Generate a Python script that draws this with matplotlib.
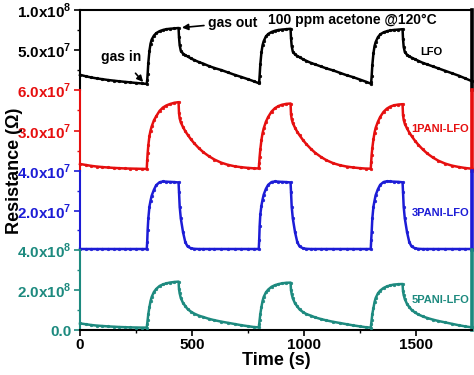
import matplotlib
matplotlib.use("Agg")
import matplotlib.pyplot as plt
from matplotlib.ticker import FixedLocator, FixedFormatter

plt.rcParams['font.family'] = ['Liberation Sans', 'DejaVu Sans']
plt.rcParams['font.weight'] = 'bold'
plt.rcParams['mathtext.fontset'] = 'custom'
plt.rcParams['mathtext.rm'] = 'Liberation Sans:bold'
plt.rcParams['mathtext.bf'] = 'Liberation Sans:bold'

# ---------------- data ----------------
time_s = [0, 25, 50, 75, 100, 125, 150, 175, 200, 225, 250, 275, 298,
          300, 302, 305, 310, 315, 320, 330, 340, 355, 370, 385, 400, 420, 440,
          442, 445, 450, 460, 470, 480, 495, 510, 530, 550, 575, 600, 630, 660, 690, 720, 750, 775, 798,
          800, 802, 805, 810, 815, 820, 830, 840, 855, 870, 885, 900, 920, 940,
          942, 945, 950, 960, 970, 980, 995, 1010, 1030, 1050, 1075, 1100, 1130, 1160, 1190, 1220, 1250, 1275, 1298,
          1300, 1302, 1305, 1310, 1315, 1320, 1330, 1340, 1355, 1370, 1385, 1400, 1420, 1440,
          1442, 1445, 1450, 1460, 1470, 1480, 1495, 1510, 1530, 1550, 1575, 1600, 1630, 1660, 1690, 1720, 1750]

# LFO, in units of 1e7 ohm
lfo = [1.90, 1.72, 1.57, 1.45, 1.35, 1.25, 1.17, 1.09, 1.02, 0.95, 0.88, 0.82, 0.76,
       1.2, 2.0, 3.4, 4.9, 5.8, 6.3, 6.8, 7.1, 7.35, 7.5, 7.6, 7.65, 7.7, 7.75,
       6.6, 5.6, 4.9, 4.55, 4.35, 4.2, 3.95, 3.75, 3.5, 3.3, 3.0, 2.75, 2.5, 2.2, 1.9, 1.63, 1.35, 1.1, 0.85,
       1.0, 1.8, 3.2, 4.7, 5.6, 6.1, 6.7, 7.0, 7.25, 7.4, 7.5, 7.55, 7.6, 7.65,
       6.5, 5.5, 4.8, 4.45, 4.25, 4.1, 3.85, 3.65, 3.4, 3.2, 2.95, 2.7, 2.45, 2.15, 1.85, 1.6, 1.3, 1.05, 0.8,
       1.0, 1.7, 3.1, 4.6, 5.5, 6.0, 6.6, 6.95, 7.2, 7.35, 7.45, 7.5, 7.55, 7.6,
       6.4, 5.4, 4.75, 4.4, 4.2, 4.05, 3.85, 3.65, 3.4, 3.2, 2.95, 2.7, 2.4, 2.1, 1.8, 1.45, 1.1]

# 1PANI-LFO, in units of 1e7 ohm
pani1 = [0.52, 0.45, 0.38, 0.33, 0.29, 0.26, 0.23, 0.21, 0.19, 0.18, 0.17, 0.16, 0.15,
         0.8, 1.3, 1.9, 2.6, 3.0, 3.3, 3.75, 4.05, 4.45, 4.7, 4.85, 4.95, 5.05, 5.1,
         4.3, 3.9, 3.6, 3.25, 2.95, 2.7, 2.35, 2.05, 1.7, 1.4, 1.1, 0.85, 0.62, 0.46, 0.35, 0.28, 0.23, 0.2, 0.19,
         0.6, 1.06, 1.6, 2.3, 2.8, 3.15, 3.65, 4.0, 4.4, 4.65, 4.8, 4.9, 4.97, 5.0,
         4.2, 3.85, 3.55, 3.2, 2.9, 2.65, 2.3, 2.0, 1.65, 1.35, 1.05, 0.8, 0.58, 0.43, 0.33, 0.26, 0.21, 0.18, 0.17,
         0.7, 1.2, 1.7, 2.35, 2.85, 3.2, 3.65, 4.0, 4.38, 4.62, 4.77, 4.86, 4.92, 4.95,
         4.15, 3.8, 3.5, 3.15, 2.85, 2.6, 2.25, 1.95, 1.6, 1.3, 1.0, 0.76, 0.55, 0.4, 0.3, 0.22, 0.17]

# 3PANI-LFO, in units of 1e7 ohm
pani3 = [0.05, 0.05, 0.05, 0.05, 0.05, 0.05, 0.05, 0.05, 0.05, 0.05, 0.05, 0.05, 0.05,
         0.4, 1.0, 1.6, 2.2, 2.5, 2.75, 3.05, 3.28, 3.43, 3.47, 3.46, 3.45, 3.44, 3.42,
         2.95, 2.2, 1.6, 0.9, 0.4, 0.18, 0.09, 0.06, 0.05, 0.05, 0.05, 0.05, 0.05, 0.05, 0.05, 0.05, 0.05, 0.05, 0.05,
         0.5, 1.2, 1.8, 2.25, 2.55, 2.8, 3.1, 3.3, 3.44, 3.47, 3.46, 3.45, 3.44, 3.42,
         2.95, 2.2, 1.6, 0.9, 0.4, 0.18, 0.09, 0.06, 0.05, 0.05, 0.05, 0.05, 0.05, 0.05, 0.05, 0.05, 0.05, 0.05, 0.05,
         0.5, 0.9, 1.6, 2.2, 2.5, 2.78, 3.08, 3.3, 3.44, 3.48, 3.47, 3.46, 3.45, 3.43,
         2.95, 2.2, 1.6, 0.9, 0.4, 0.18, 0.09, 0.06, 0.05, 0.05, 0.05, 0.05, 0.05, 0.05, 0.05, 0.05, 0.05]

# 5PANI-LFO, in units of 1e8 ohm
pani5 = [0.33, 0.29, 0.25, 0.22, 0.20, 0.18, 0.165, 0.15, 0.14, 0.13, 0.125, 0.12, 0.12,
         0.3, 0.5, 0.8, 1.15, 1.45, 1.65, 1.9, 2.05, 2.2, 2.28, 2.33, 2.37, 2.4, 2.42,
         2.05, 1.83, 1.6, 1.35, 1.2, 1.05, 0.92, 0.82, 0.72, 0.65, 0.56, 0.49, 0.42, 0.36, 0.3, 0.24, 0.19, 0.15, 0.13,
         0.3, 0.5, 0.8, 1.15, 1.45, 1.65, 1.88, 2.02, 2.16, 2.24, 2.29, 2.33, 2.36, 2.37,
         2.0, 1.8, 1.58, 1.33, 1.18, 1.03, 0.9, 0.8, 0.72, 0.63, 0.55, 0.48, 0.41, 0.35, 0.29, 0.23, 0.18, 0.14, 0.12,
         0.3, 0.5, 0.8, 1.1, 1.4, 1.6, 1.83, 1.97, 2.1, 2.18, 2.23, 2.27, 2.29, 2.3,
         1.95, 1.75, 1.55, 1.3, 1.15, 1.01, 0.88, 0.78, 0.68, 0.6, 0.52, 0.45, 0.38, 0.31, 0.24, 0.18, 0.13]

names = ["LFO", "1PANI-LFO", "3PANI-LFO", "5PANI-LFO"]
series = [lfo, pani1, pani3, pani5]
scales = [1e7, 1e7, 1e7, 1e8]
ymax = [1e8, 6e7, 4e7, 4e8]
ytick_vals = [[5e7, 1e8], [3e7, 6e7], [2e7, 4e7], [0, 2e8, 4e8]]
ytick_labels = [[r'$\mathbf{5.0x10}^{\mathbf{7}}$', r'$\mathbf{1.0x10}^{\mathbf{8}}$'],
                [r'$\mathbf{3.0x10}^{\mathbf{7}}$', r'$\mathbf{6.0x10}^{\mathbf{7}}$'],
                [r'$\mathbf{2.0x10}^{\mathbf{7}}$', r'$\mathbf{4.0x10}^{\mathbf{7}}$'],
                ['0.0', r'$\mathbf{2.0x10}^{\mathbf{8}}$', r'$\mathbf{4.0x10}^{\mathbf{8}}$']]
colors = ["black", "#e60f0f", "#1c1cd6", "#1d8a7f"]

# ---------------- figure ----------------
fig = plt.figure(figsize=(4.74, 3.75), dpi=100)
W, H = 474.0, 375.0
left, right = 80 / W, 472 / W
edges_px = [10, 90, 171, 250, 330]

axes = []
for i in range(4):
    top = 1 - edges_px[i] / H
    bot = 1 - edges_px[i + 1] / H
    ax = fig.add_axes([left, bot, right - left, top - bot])
    axes.append(ax)
    c = colors[i]
    vals = [v * scales[i] for v in series[i]]
    ax.plot(time_s, vals, color=c, lw=1.8, marker='o', ms=1.8, mew=0.5,
            mfc=c, mec=c, clip_on=False, zorder=3)
    ax.set_xlim(0, 1750)
    ax.set_ylim(0, ymax[i])
    ax.patch.set_alpha(0)
    for s in ['top', 'bottom']:
        ax.spines[s].set_visible(False)
    ax.spines['left'].set_color(c)
    ax.spines['left'].set_linewidth(1.5)
    ax.spines['right'].set_color(c)
    ax.spines['right'].set_linewidth(2.6)
    ax.yaxis.set_major_locator(FixedLocator(ytick_vals[i]))
    ax.yaxis.set_major_formatter(FixedFormatter(ytick_labels[i]))
    ax.yaxis.set_minor_locator(FixedLocator([ymax[i] * 0.25, ymax[i] * 0.75]))
    ax.tick_params(axis='y', which='major', direction='out', length=4, width=1.2,
                   colors=c, labelsize=11, pad=2)
    ax.tick_params(axis='y', which='minor', direction='out', length=2.5, width=1.0, colors=c)
    ax.tick_params(axis='y', which='both', right=False)
    for lab in ax.get_yticklabels():
        lab.set_fontweight('bold')
        lab.set_color(c)
    if i < 3:
        ax.tick_params(axis='x', which='both', bottom=False, labelbottom=False)
    else:
        ax.spines['bottom'].set_visible(True)
        ax.spines['bottom'].set_color('black')
        ax.spines['bottom'].set_linewidth(1.5)
        ax.xaxis.set_major_locator(FixedLocator([0, 500, 1000, 1500]))
        ax.xaxis.set_minor_locator(FixedLocator([250, 750, 1250]))
        ax.tick_params(axis='x', which='major', direction='out', length=4, width=1.2,
                       labelsize=11, pad=2)
        ax.tick_params(axis='x', which='minor', direction='out', length=2.5, width=1.0)
        for lab in ax.get_xticklabels():
            lab.set_fontweight('bold')
        ax.set_xlabel('Time (s)', fontsize=13, fontweight='bold', labelpad=0)
    if i == 0:
        ax.spines['top'].set_visible(True)
        ax.spines['top'].set_color('black')
        ax.spines['top'].set_linewidth(1.5)

# panel labels
axes[0].text(1570, 0.48e8, "LFO", fontsize=8, fontweight='bold', ha='center', va='center')
axes[1].text(0.993, 0.52, "1PANI-LFO", transform=axes[1].transAxes, fontsize=8,
             fontweight='bold', color=colors[1], ha='right', va='center')
axes[2].text(0.993, 0.47, "3PANI-LFO", transform=axes[2].transAxes, fontsize=8,
             fontweight='bold', color=colors[2], ha='right', va='center')
axes[3].text(0.993, 0.375, "5PANI-LFO", transform=axes[3].transAxes, fontsize=8,
             fontweight='bold', color=colors[3], ha='right', va='center')

# annotations
axes[0].text(1216, 0.875e8, "100 ppm acetone @120°C", fontsize=10, fontweight='bold',
             ha='center', va='center')
axes[0].annotate("gas out", xy=(455, 0.78e8), xytext=(572, 0.84e8), fontsize=10,
                 fontweight='bold', ha='left', va='center',
                 arrowprops=dict(arrowstyle='-|>', color='black', lw=1.2,
                                 mutation_scale=9, shrinkA=1, shrinkB=0))
axes[0].annotate("gas in", xy=(282, 0.10e8), xytext=(185, 0.41e8), fontsize=10,
                 fontweight='bold', ha='center', va='center',
                 arrowprops=dict(arrowstyle='-|>', color='black', lw=1.2,
                                 mutation_scale=9, shrinkA=6, shrinkB=0))

fig.text(0.03, 0.545, 'Resistance (Ω)', rotation=90, fontsize=13, fontweight='bold',
         ha='center', va='center')

fig.savefig('out.png', dpi=100)
